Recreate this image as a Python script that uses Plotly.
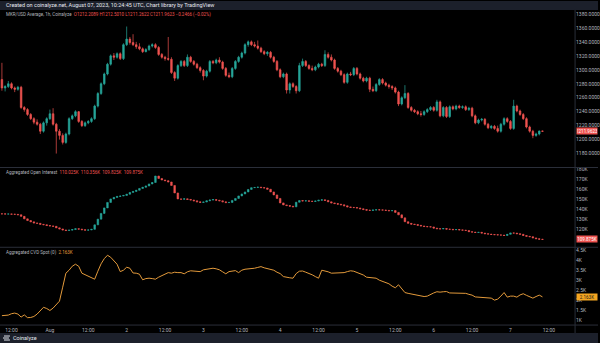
import pandas as pd
import plotly.graph_objects as go

# ---- MKR/USD hourly candles (Jul 31 09:00 -> Aug 07 10:00 UTC) ----
opens = [1286, 1274, 1276, 1280, 1274, 1272, 1275, 1246, 1243, 1236, 1230, 1225, 1222, 1212, 1224, 1230, 1237, 1222, 1212, 1206,
         1196, 1208, 1230, 1234, 1240, 1226, 1220, 1224, 1226, 1230, 1248, 1266, 1280, 1294, 1308, 1320, 1318, 1323, 1316, 1336,
         1344, 1339, 1336, 1333, 1330, 1326, 1329, 1334, 1336, 1332, 1322, 1318, 1316, 1315, 1296, 1288, 1306, 1312, 1306, 1318,
         1312, 1308, 1303, 1299, 1291, 1298, 1312, 1310, 1314, 1311, 1302, 1292, 1290, 1302, 1312, 1318, 1324, 1336, 1340, 1336,
         1334, 1331, 1326, 1323, 1325, 1318, 1312, 1300, 1290, 1294, 1271, 1280, 1276, 1270, 1306, 1312, 1306, 1302, 1300, 1304,
         1308, 1306, 1322, 1318, 1314, 1302, 1298, 1293, 1282, 1294, 1293, 1302, 1294, 1288, 1284, 1288, 1272, 1270, 1279, 1286,
         1281, 1278, 1276, 1274, 1268, 1251, 1260, 1266, 1246, 1242, 1240, 1237, 1236, 1240, 1243, 1246, 1242, 1254, 1234, 1246,
         1233, 1247, 1244, 1248, 1246, 1247, 1243, 1245, 1234, 1224, 1228, 1229, 1222, 1217, 1219, 1216, 1212, 1222, 1230, 1226,
         1216, 1248, 1241, 1236, 1230, 1218, 1212, 1206, 1208, 1212.2089]
highs = [1310, 1278, 1284, 1282, 1276, 1277, 1277, 1248, 1245, 1238, 1232, 1229, 1224, 1226, 1232, 1243, 1245, 1224, 1215, 1209,
         1210, 1232, 1236, 1242, 1241, 1228, 1226, 1228, 1232, 1250, 1268, 1282, 1296, 1310, 1322, 1324, 1325, 1325, 1338, 1362,
         1347, 1351, 1340, 1338, 1332, 1331, 1336, 1338, 1338, 1334, 1324, 1320, 1347, 1318, 1298, 1308, 1314, 1314, 1322, 1320,
         1314, 1310, 1305, 1301, 1300, 1314, 1314, 1316, 1318, 1313, 1304, 1296, 1304, 1314, 1320, 1326, 1338, 1342, 1342, 1340,
         1342, 1333, 1328, 1327, 1327, 1320, 1314, 1302, 1296, 1296, 1282, 1282, 1278, 1310, 1316, 1314, 1308, 1306, 1306, 1310,
         1310, 1328, 1325, 1322, 1316, 1304, 1300, 1295, 1296, 1297, 1304, 1304, 1296, 1290, 1290, 1290, 1276, 1281, 1288, 1288,
         1283, 1280, 1278, 1276, 1270, 1262, 1278, 1268, 1248, 1244, 1242, 1241, 1242, 1245, 1248, 1248, 1257, 1256, 1248, 1248,
         1249, 1249, 1250, 1250, 1249, 1249, 1247, 1247, 1236, 1230, 1231, 1231, 1224, 1221, 1221, 1220, 1224, 1232, 1232, 1228,
         1257, 1250, 1243, 1238, 1232, 1220, 1214, 1210, 1213, 1212.5010]
lows = [1270, 1269, 1274, 1272, 1268, 1270, 1244, 1240, 1234, 1228, 1222, 1220, 1208, 1210, 1220, 1228, 1220, 1180, 1200, 1193,
        1194, 1206, 1228, 1232, 1224, 1218, 1218, 1222, 1224, 1228, 1246, 1264, 1278, 1292, 1306, 1314, 1316, 1314, 1314, 1334,
        1336, 1334, 1330, 1328, 1324, 1325, 1327, 1332, 1330, 1320, 1316, 1313, 1313, 1294, 1284, 1286, 1304, 1304, 1304, 1310,
        1306, 1301, 1296, 1285, 1289, 1296, 1308, 1308, 1309, 1300, 1290, 1288, 1288, 1300, 1310, 1316, 1322, 1333, 1334, 1332,
        1329, 1324, 1321, 1320, 1316, 1310, 1298, 1288, 1288, 1266, 1266, 1274, 1266, 1268, 1304, 1304, 1300, 1298, 1298, 1302,
        1304, 1304, 1316, 1312, 1300, 1296, 1291, 1280, 1280, 1291, 1291, 1292, 1286, 1282, 1282, 1268, 1268, 1268, 1277, 1279,
        1276, 1273, 1271, 1266, 1248, 1249, 1258, 1244, 1240, 1238, 1235, 1233, 1234, 1238, 1241, 1240, 1240, 1232, 1232, 1231,
        1231, 1242, 1242, 1244, 1244, 1241, 1241, 1232, 1222, 1222, 1226, 1220, 1215, 1215, 1214, 1210, 1210, 1220, 1224, 1214,
        1214, 1239, 1234, 1228, 1216, 1210, 1202, 1204, 1206, 1211.2622]
closes = [1274, 1276, 1280, 1274, 1272, 1275, 1246, 1243, 1236, 1230, 1225, 1222, 1212, 1224, 1230, 1237, 1222, 1212, 1206, 1196,
          1208, 1230, 1234, 1240, 1226, 1220, 1224, 1226, 1230, 1248, 1266, 1280, 1294, 1308, 1320, 1318, 1323, 1316, 1336, 1344,
          1339, 1336, 1333, 1330, 1326, 1329, 1334, 1336, 1332, 1322, 1318, 1316, 1315, 1296, 1288, 1306, 1312, 1306, 1318, 1312,
          1308, 1303, 1299, 1291, 1298, 1312, 1310, 1314, 1311, 1302, 1292, 1290, 1302, 1312, 1318, 1324, 1336, 1340, 1336, 1334,
          1331, 1326, 1323, 1325, 1318, 1312, 1300, 1290, 1294, 1271, 1280, 1276, 1270, 1306, 1312, 1306, 1302, 1300, 1304, 1308,
          1306, 1322, 1318, 1314, 1302, 1298, 1293, 1282, 1294, 1293, 1302, 1294, 1288, 1284, 1288, 1272, 1270, 1279, 1286, 1281,
          1278, 1276, 1274, 1268, 1251, 1260, 1266, 1246, 1242, 1240, 1237, 1236, 1240, 1243, 1246, 1242, 1254, 1234, 1246, 1233,
          1247, 1244, 1248, 1246, 1247, 1243, 1245, 1234, 1224, 1228, 1229, 1222, 1217, 1219, 1216, 1212, 1222, 1230, 1226, 1216,
          1248, 1241, 1236, 1230, 1218, 1212, 1206, 1208, 1212.2089, 1211.9623]

# ---- Aggregated open interest, hourly close (thousands) ----
oi_close = [135.5, 135.3, 135.4, 135.2, 135.0, 134.6, 133.0, 130.5, 128.8, 127.5,
            126.4, 126.0, 125.0, 124.6, 123.8, 123.4, 123.0, 121.5, 120.4, 119.4,
            118.8, 119.2, 119.8, 120.6, 120.2, 119.6, 119.2, 119.4, 120.0, 124.5,
            130.2, 136.0, 141.5, 147.0, 150.5, 152.0, 153.0, 153.4, 154.0, 155.2,
            157.0, 158.0, 159.2, 161.0, 162.2, 163.5, 165.5, 167.0, 173.5, 171.0,
            169.5, 168.8, 167.5, 164.0, 156.5, 150.5, 150.2, 150.6, 150.0, 149.4,
            148.6, 147.6, 147.0, 147.4, 148.6, 149.4, 149.8, 149.2, 148.6, 147.6,
            146.8, 147.0, 149.0, 151.0, 153.5, 155.5, 157.5, 160.0, 161.8, 162.0,
            162.3, 161.8, 161.5, 160.2, 157.5, 154.5, 151.0, 146.5, 144.5, 143.8,
            143.2, 142.6, 147.2, 148.8, 148.4, 148.6, 148.2, 148.0, 148.4, 149.2,
            149.6, 149.0, 147.6, 146.5, 145.8, 145.2, 144.6, 143.6, 142.5, 142.0,
            141.8, 141.4, 140.6, 139.8, 139.2, 139.0, 139.4, 139.6, 139.5, 139.3,
            139.0, 138.6, 138.8, 137.0, 134.5, 131.5, 127.6, 126.0, 125.2, 124.8,
            124.0, 123.4, 122.8, 122.6, 122.4, 121.2, 120.6, 120.4, 120.8, 120.2,
            120.0, 119.6, 119.8, 119.4, 119.2, 118.8, 117.6, 117.2, 116.8, 117.0,
            116.2, 115.6, 115.2, 114.8, 114.6, 114.4, 114.2, 113.8, 115.0, 116.4,
            116.2, 115.6, 115.0, 113.8, 113.0, 112.6, 111.4, 110.6, 110.025, 109.875]
oi_first_open = 135.6
oi_last = dict(o=110.025, h=110.356, l=109.825, c=109.875)

# ---- Aggregated spot CVD (thousands) ----
cvd = [1.22, 1.22, 1.25, 1.32, 1.35, 1.30, 1.15, 1.26, 1.12, 1.13,
       1.18, 1.30, 1.50, 1.64, 1.58, 1.48, 1.60, 1.80, 1.95, 2.65,
       3.35, 3.50, 3.70, 3.80, 3.70, 3.35, 3.28, 3.20, 3.10, 3.05,
       3.45, 3.82, 4.08, 4.25, 4.15, 4.00, 3.80, 3.43, 3.50, 3.65,
       3.60, 3.36, 3.35, 3.30, 3.02, 3.08, 3.10, 3.08, 3.05, 3.15,
       3.22, 3.28, 3.38, 3.35, 3.40, 3.38, 3.38, 3.32, 3.42, 3.47,
       3.46, 3.45, 3.43, 3.52, 3.54, 3.56, 3.60, 3.57, 3.52, 3.42,
       3.32, 3.43, 3.46, 3.48, 3.38, 3.50, 3.55, 3.56, 3.58, 3.60,
       3.64, 3.68, 3.62, 3.58, 3.55, 3.50, 3.40, 3.33, 3.18, 3.14,
       3.12, 3.10, 3.33, 3.45, 3.46, 3.40, 3.34, 3.27, 3.18, 3.10,
       3.50, 3.47, 3.42, 3.35, 3.35, 3.36, 3.36, 3.38, 3.43, 3.47,
       3.45, 3.40, 3.32, 3.26, 3.15, 3.13, 3.12, 3.10, 3.00, 2.94,
       2.90, 2.82, 2.70, 2.62, 2.77, 2.55, 2.38, 2.34, 2.31, 2.28,
       2.25, 2.19, 2.18, 2.20, 2.29, 2.36, 2.42, 2.40, 2.42, 2.43,
       2.36, 2.35, 2.35, 2.35, 2.34, 2.34, 2.29, 2.25, 2.16, 2.15,
       2.15, 2.14, 2.11, 2.10, 2.00, 2.05, 2.20, 2.38, 2.15, 2.20,
       2.20, 2.15, 2.26, 2.32, 2.24, 2.16, 2.10, 2.18, 2.25, 2.163]

price_ticks = [1180, 1200, 1220, 1240, 1260, 1280, 1300, 1320, 1340, 1360, 1380]
oi_ticks = [120, 130, 140, 150, 160, 170, 180]
cvd_ticks = [1, 1.5, 2, 2.5, 3, 3.5, 4, 4.5]
x_tick_times = ["2023-07-31 12:00", "2023-08-01 00:00", "2023-08-01 12:00", "2023-08-02 00:00",
                "2023-08-02 12:00", "2023-08-03 00:00", "2023-08-03 12:00", "2023-08-04 00:00",
                "2023-08-04 12:00", "2023-08-05 00:00", "2023-08-05 12:00", "2023-08-06 00:00",
                "2023-08-06 12:00", "2023-08-07 00:00", "2023-08-07 12:00"]
x_tick_text = ["12:00", "Aug", "12:00", "2", "12:00", "3", "12:00", "4", "12:00", "5",
               "12:00", "6", "12:00", "7", "12:00"]

times = pd.date_range("2023-07-31 09:00", periods=len(closes), freq="h")
assert len(opens) == len(highs) == len(lows) == len(closes) == len(oi_close) == len(cvd)

# OI bars: each hour opens where the previous one closed
oi_open = [oi_first_open] + oi_close[:-1]
oi_high = [max(o, c) for o, c in zip(oi_open, oi_close)]
oi_low = [min(o, c) for o, c in zip(oi_open, oi_close)]
oi_high[-1], oi_low[-1] = oi_last["h"], oi_last["l"]

UP, DOWN = "#26a69a", "#ef5350"
CVD_COLOR = "#e39a3b"
TXT = "#b2b5be"
SEP = "#2a2e39"
BAR_BG = "#1c202b"
FONT = "Roboto"

W, H = 600, 343
AX_X = 577  # right edge of the panes (px)


def py(px):
    """pixel row -> paper y"""
    return 1 - px / H


fig = go.Figure()
fig.add_trace(go.Candlestick(
    x=times, open=opens, high=highs, low=lows, close=closes,
    increasing=dict(line=dict(color=UP, width=0.7), fillcolor=UP),
    decreasing=dict(line=dict(color=DOWN, width=0.7), fillcolor=DOWN),
    whiskerwidth=0, xaxis="x", yaxis="y", hoverinfo="skip"))
fig.add_trace(go.Candlestick(
    x=times, open=oi_open, high=oi_high, low=oi_low, close=oi_close,
    increasing=dict(line=dict(color=UP, width=0.6), fillcolor=UP),
    decreasing=dict(line=dict(color=DOWN, width=0.6), fillcolor=DOWN),
    whiskerwidth=0, xaxis="x", yaxis="y2", hoverinfo="skip"))
fig.add_trace(go.Scatter(
    x=times, y=cvd, mode="lines", line=dict(color=CVD_COLOR, width=1),
    xaxis="x", yaxis="y3", hoverinfo="skip"))

tickfont = dict(family=FONT, size=5, color=TXT)
yaxis_common = dict(side="right", anchor="x", showgrid=False, zeroline=False,
                    showline=False, ticks="", tickfont=tickfont, fixedrange=True)

fig.update_layout(
    width=W, height=H, margin=dict(l=0, r=0, t=0, b=0),
    paper_bgcolor="#000000", plot_bgcolor="#000000", showlegend=False,
    font=dict(family=FONT, color=TXT),
    xaxis=dict(domain=[0, AX_X / W], anchor="y3", type="date",
               range=["2023-07-31 08:24", "2023-08-07 20:12"],
               rangeslider=dict(visible=False), showgrid=False, zeroline=False,
               showline=False, ticks="", tickvals=x_tick_times, ticktext=x_tick_text,
               tickfont=tickfont, fixedrange=True, ticklabelstandoff=1),
    yaxis=dict(domain=[py(167), py(9)], range=[1160, 1385.7], tickvals=price_ticks,
               ticktext=[f"{v:.4f}" for v in price_ticks], **yaxis_common),
    yaxis2=dict(domain=[py(247), py(167)], range=[102, 182], tickvals=oi_ticks,
                ticktext=[f"{v}K" for v in oi_ticks], **yaxis_common),
    yaxis3=dict(domain=[py(325), py(247)], range=[0.75, 4.65], tickvals=cvd_ticks,
                ticktext=[f"{v:g}K" for v in cvd_ticks], **yaxis_common),
)

shapes = []
# header and footer bars
shapes.append(dict(type="rect", xref="paper", yref="paper", x0=0, x1=1, y0=py(9), y1=1,
                   fillcolor=BAR_BG, line=dict(width=0), layer="above"))
shapes.append(dict(type="rect", xref="paper", yref="paper", x0=0, x1=1, y0=0, y1=py(333),
                   fillcolor=BAR_BG, line=dict(width=0), layer="above"))
# pane separators and price-scale border
for row in (167, 247, 325):
    shapes.append(dict(type="line", xref="paper", yref="paper", x0=0, x1=1, y0=py(row), y1=py(row),
                       line=dict(color=SEP, width=1)))
shapes.append(dict(type="line", xref="paper", yref="paper", x0=AX_X / W, x1=AX_X / W,
                   y0=py(333), y1=py(9), line=dict(color=SEP, width=1)))
# footer logo mark
for k, (a, b) in enumerate([(4, 10), (3, 9), (4, 10)]):
    r = 336 + 2 * k
    shapes.append(dict(type="line", xref="paper", yref="paper", x0=a / W, x1=b / W,
                       y0=py(r), y1=py(r), line=dict(color="#dfe3ea", width=1), layer="above"))
fig.update_layout(shapes=shapes)

annotations = []
annotations.append(dict(xref="paper", yref="paper", x=4 / W, y=py(4.5), xanchor="left", yanchor="middle",
                        showarrow=False, font=dict(family=FONT, size=5.5, color="#e6e8ee"),
                        text="Created on coinalyze.net, August 07, 2023, 10:24:45 UTC, Chart library by TradingView"))
annotations.append(dict(xref="paper", yref="paper", x=11 / W, y=py(338), xanchor="left", yanchor="middle",
                        showarrow=False, font=dict(family=FONT, size=5.5, color="#e6e8ee"), text="Coinalyze"))

chg = closes[-1] - opens[-1]
pct = chg / opens[-1] * 100
sign = "+" if chg >= 0 else "\u2212"
ohlc = (f"O{opens[-1]:.4f} H{highs[-1]:.4f} L{lows[-1]:.4f} C{closes[-1]:.4f} "
        f"{sign}{abs(chg):.4f} ({sign}{abs(pct):.2f}%)")
annotations.append(dict(xref="paper", yref="paper", x=4 / W, y=py(14), xanchor="left", yanchor="middle",
                        showarrow=False, font=dict(family=FONT, size=4.5),
                        text=f"<span style='color:{TXT}'>MKR/USD Average, 1h, Coinalyze</span>  "
                             f"<span style='color:{DOWN}'>{ohlc}</span>"))
annotations.append(dict(xref="paper", yref="paper", x=4 / W, y=py(172), xanchor="left", yanchor="middle",
                        showarrow=False, font=dict(family=FONT, size=4.5),
                        text=f"<span style='color:{TXT}'>Aggregated Open Interest</span>  "
                             f"<span style='color:{DOWN}'>{oi_last['o']:.3f}K  {oi_last['h']:.3f}K  "
                             f"{oi_last['l']:.3f}K  {oi_last['c']:.3f}K</span>"))
annotations.append(dict(xref="paper", yref="paper", x=4 / W, y=py(252), xanchor="left", yanchor="middle",
                        showarrow=False, font=dict(family=FONT, size=4.5),
                        text=f"<span style='color:{TXT}'>Aggregated CVD Spot (0)</span>  "
                             f"<span style='color:{CVD_COLOR}'>{cvd[-1]:.3f}K</span>"))

# last-value tags on the price scales
for yref, val, txt, bg, fg in [("y", closes[-1], f"{closes[-1]:.4f}", DOWN, "#ffffff"),
                               ("y2", oi_close[-1], f"{oi_close[-1]:.3f}K", DOWN, "#ffffff"),
                               ("y3", cvd[-1], f"{cvd[-1]:.3f}K", "#f4a521", "#1a1a1a")]:
    annotations.append(dict(xref="paper", yref=yref, x=(AX_X + 1) / W, y=val, xanchor="left",
                            yanchor="middle", showarrow=False, text=txt, bgcolor=bg, width=20, height=6,
                            borderpad=0, font=dict(family=FONT, size=4.5, color=fg)))
fig.update_layout(annotations=annotations)

fig.write_html("out.html")
